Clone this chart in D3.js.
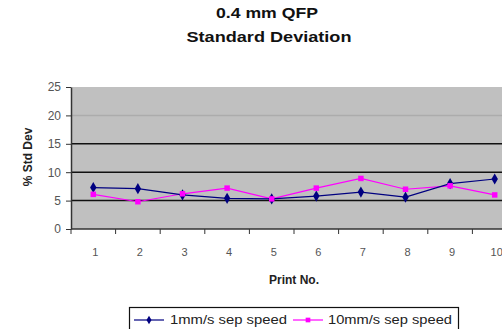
<!DOCTYPE html>
<html>
<head>
<meta charset="utf-8">
<script src="https://cdn.jsdelivr.net/npm/d3@7"></script>
<style>
  html, body { margin: 0; padding: 0; background: #fff; }
  svg { display: block; font-family: Arial, "Liberation Sans", sans-serif; }
</style>
</head>
<body>
<svg id="chart" width="502" height="329"></svg>
<script>
// Print numbers along the x axis
const prints = ["1", "2", "3", "4", "5", "6", "7", "8", "9", "10"];
// % standard deviation per print at each separation speed
const slowSpeed = [7.3, 7.1, 6.0, 5.4, 5.3, 5.8, 6.5, 5.6, 8.0, 8.8];
const fastSpeed = [6.1, 4.8, 6.2, 7.2, 5.3, 7.2, 8.9, 7.0, 7.6, 6.0];
const yTicks = [0, 5, 10, 15, 20, 25];
const seriesNames = ["1mm/s sep speed", "10mm/s sep speed"];

const svg = d3.select("#chart");
const plot = { left: 71, right: 517, top: 87, bottom: 229 };

const x = d3.scaleBand().domain(prints).range([plot.left, plot.right]);
const y = d3.scaleLinear().domain([0, 25]).range([plot.bottom, plot.top]);

// Plot area background
svg.append("rect")
  .attr("x", plot.left).attr("y", plot.top)
  .attr("width", plot.right - plot.left).attr("height", plot.bottom - plot.top)
  .attr("fill", "#c0c0c0");

// Horizontal gridlines
svg.append("g").selectAll("line")
  .data(yTicks.filter(d => d > 0 && d < 25))
  .join("line")
  .attr("x1", plot.left).attr("x2", plot.right)
  .attr("y1", d => y(d)).attr("y2", d => y(d))
  .attr("stroke", d => d === 20 ? "#acacac" : "#111")
  .attr("stroke-width", 1.5);

// Y axis
const yAxis = svg.append("g")
  .attr("transform", `translate(${plot.left},0)`)
  .call(d3.axisLeft(y).tickValues(yTicks).tickSize(5).tickPadding(5).tickSizeOuter(0));
yAxis.select(".domain").attr("stroke", "#333").attr("stroke-width", 1.5);
yAxis.selectAll(".tick line").attr("stroke", "#333");
yAxis.selectAll("text").attr("font-size", 12).attr("fill", "#555");

// X axis with ticks on category boundaries
const xAxisG = svg.append("g").attr("transform", `translate(0,${plot.bottom})`);
xAxisG.append("line")
  .attr("x1", plot.left).attr("x2", plot.right)
  .attr("stroke", "#333").attr("stroke-width", 1.5);
xAxisG.selectAll("line.tk")
  .data(prints)
  .join("line").attr("class", "tk")
  .attr("x1", d => x(d)).attr("x2", d => x(d))
  .attr("y1", 0).attr("y2", 5)
  .attr("stroke", "#333");
xAxisG.selectAll("text")
  .data(prints)
  .join("text")
  .attr("x", d => x(d) + x.bandwidth() / 2 + 2)
  .attr("y", 27)
  .attr("text-anchor", "middle")
  .attr("font-size", 11)
  .attr("fill", "#555")
  .text(d => d);

// Axis titles
svg.append("text")
  .attr("x", 294).attr("y", 284)
  .attr("text-anchor", "middle")
  .attr("font-size", 12).attr("font-weight", "bold").attr("fill", "#222")
  .text("Print No.");
svg.append("text")
  .attr("transform", "translate(32,157) rotate(-90)")
  .attr("text-anchor", "middle")
  .attr("font-size", 12).attr("font-weight", "bold").attr("fill", "#222")
  .text("% Std Dev");

// Chart title
svg.append("text")
  .attr("x", 267).attr("y", 18)
  .attr("text-anchor", "middle")
  .attr("font-size", 15).attr("font-weight", "bold").attr("fill", "#111")
  .attr("textLength", 102).attr("lengthAdjust", "spacingAndGlyphs")
  .text("0.4 mm QFP");
svg.append("text")
  .attr("x", 269).attr("y", 42)
  .attr("text-anchor", "middle")
  .attr("font-size", 15).attr("font-weight", "bold").attr("fill", "#111")
  .attr("textLength", 165).attr("lengthAdjust", "spacingAndGlyphs")
  .text("Standard Deviation");

// Series lines and markers
const cx = d => x(d) + x.bandwidth() / 2;
const line = d3.line().x((v, i) => cx(prints[i])).y(v => y(v));
const series = [
  { name: seriesNames[0], values: slowSpeed, color: "#000080", symbol: d3.symbolDiamond },
  { name: seriesNames[1], values: fastSpeed, color: "#ff00ff", symbol: d3.symbolSquare }
];

series.slice().reverse().forEach(s => {
  svg.append("path")
    .datum(s.values)
    .attr("d", line)
    .attr("fill", "none")
    .attr("stroke", s.color)
    .attr("stroke-width", 1.2);
});
series.forEach(s => {
  svg.append("g").selectAll("path")
    .data(s.values)
    .join("path")
    .attr("transform", (v, i) => `translate(${cx(prints[i])},${y(v)})`)
    .attr("d", d3.symbol().type(s.symbol).size(s.symbol === d3.symbolSquare ? 30 : 36))
    .attr("fill", s.color);
});

// Legend
const legend = svg.append("g");
legend.append("rect")
  .attr("x", 129.5).attr("y", 307.5)
  .attr("width", 329).attr("height", 30)
  .attr("fill", "#fff").attr("stroke", "#111").attr("stroke-width", 1.2);
const legendItems = [
  { s: series[0], x0: 134, tx: 170, tl: 117 },
  { s: series[1], x0: 293, tx: 328, tl: 124 }
];
legendItems.forEach(it => {
  legend.append("line")
    .attr("x1", it.x0).attr("x2", it.x0 + 30)
    .attr("y1", 320).attr("y2", 320)
    .attr("stroke", it.s.color).attr("stroke-width", 1.2);
  legend.append("path")
    .attr("transform", `translate(${it.x0 + 15},320)`)
    .attr("d", d3.symbol().type(it.s.symbol).size(22))
    .attr("fill", it.s.color);
  legend.append("text")
    .attr("x", it.tx).attr("y", 324)
    .attr("font-size", 12).attr("fill", "#222")
    .attr("textLength", it.tl).attr("lengthAdjust", "spacingAndGlyphs")
    .text(it.s.name);
});
</script>
</body>
</html>
